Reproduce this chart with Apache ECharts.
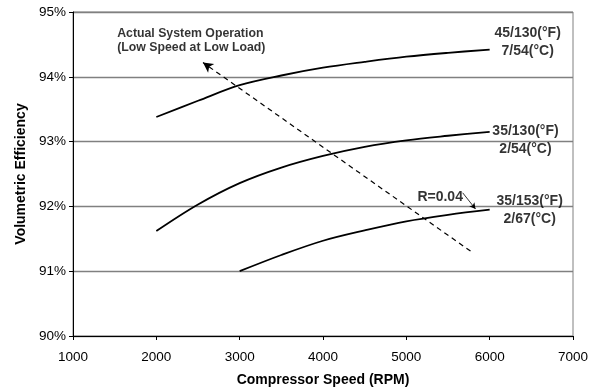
<!DOCTYPE html>
<html><head><meta charset="utf-8">
<script src="https://cdn.jsdelivr.net/npm/echarts@6/dist/echarts.min.js"></script>
<style>html,body{margin:0;padding:0;background:#fff}#c{width:592px;height:392px}</style>
</head><body><div id="c"></div>
<script>
var speeds1 = [2000, 2500, 3000, 3500, 4000, 4500, 5000, 5500, 6000];
var eff45_130 = [93.38, 93.63, 93.87, 94.02, 94.14, 94.23, 94.31, 94.37, 94.42];
var speeds2 = [2000, 2500, 3000, 3500, 4000, 4500, 5000, 5500, 6000];
var eff35_130 = [91.62, 92.03, 92.36, 92.6, 92.78, 92.92, 93.02, 93.09, 93.15];
var speeds3 = [3000, 3500, 4000, 4500, 5000, 5500, 6000];
var eff35_153 = [91.0, 91.25, 91.47, 91.63, 91.77, 91.87, 91.95];
var xTicks = ['1000', '2000', '3000', '4000', '5000', '6000', '7000'];
var yTicks = ['90%', '91%', '92%', '93%', '94%', '95%'];
var curveLabels = ['45/130(°F)\n7/54(°C)', '35/130(°F)\n2/54(°C)', '35/153(°F)\n2/67(°C)'];
var curveLabelPos = [[6456, 94.53], [6430, 93.02], [6480, 91.945]];
var noteText = 'Actual System Operation\n(Low Speed at Low Load)';
var notePos = [1530, 94.556];
var rText = 'R=0.04';
var rPos = [5406, 92.138];
var trendArrow = [[5770, 91.31], [2560, 94.22]];
var rArrow = [[5676, 92.21], [5830, 91.96]];

function pairs(xs, ys) { return xs.map(function (x, i) { return [x, ys[i]]; }); }

var F = '"Liberation Sans", Arial, sans-serif';
var chart = echarts.init(document.getElementById('c'));
var lineStyle = { color: '#000', width: 1.8 };
function curve(xs, ys) {
  return { type: 'line', data: pairs(xs, ys), smooth: 0.35, symbol: 'none', lineStyle: lineStyle, silent: true, z: 3 };
}
chart.setOption({
  animation: false,
  grid: { left: 73, right: 19, top: 12, bottom: 55, show: true, borderColor: '#808080', borderWidth: 1 },
  xAxis: {
    type: 'value', min: 1000, max: 7000, interval: 1000,
    name: 'Compressor Speed (RPM)', nameLocation: 'middle', nameGap: 37,
    nameTextStyle: { fontFamily: F, fontWeight: 'bold', fontSize: 14, color: '#000' },
    axisLine: { show: true, lineStyle: { color: '#000', width: 1 } },
    axisTick: { show: true, length: 4, lineStyle: { color: '#000' } },
    axisLabel: { fontFamily: F, fontSize: 13.5, color: '#000', margin: 14,
      formatter: function (v) { return xTicks[Math.round((v - 1000) / 1000)]; } },
    splitLine: { show: false }
  },
  yAxis: {
    type: 'value', min: 90, max: 95, interval: 1,
    name: 'Volumetric Efficiency', nameLocation: 'middle', nameGap: 43,
    nameTextStyle: { fontFamily: F, fontWeight: 'bold', fontSize: 14, color: '#000' },
    axisLine: { show: true, lineStyle: { color: '#000', width: 1 } },
    axisTick: { show: true, length: 4, lineStyle: { color: '#000' } },
    axisLabel: { fontFamily: F, fontSize: 13.5, color: '#000', margin: 7,
      formatter: function (v) { return yTicks[Math.round(v - 90)]; } },
    splitLine: { show: true, lineStyle: { color: '#808080', width: 1.3 } }
  },
  series: [
    curve(speeds1, eff45_130),
    curve(speeds2, eff35_130),
    curve(speeds3, eff35_153),
    {
      type: 'scatter', symbolSize: 0, silent: true, z: 5,
      data: curveLabels.map(function (t, i) {
        return { value: curveLabelPos[i], label: { show: true, formatter: t, position: 'inside',
          fontFamily: F, fontWeight: 'bold', fontSize: 14, color: '#000', lineHeight: 18, align: 'center', verticalAlign: 'middle' } };
      }).concat([
        { value: notePos, label: { show: true, formatter: noteText, position: 'inside',
          fontFamily: F, fontWeight: 'bold', fontSize: 12.3, color: '#000', lineHeight: 14.5, align: 'left', verticalAlign: 'middle' } },
        { value: rPos, label: { show: true, formatter: rText, position: 'inside',
          fontFamily: F, fontWeight: 'bold', fontSize: 14, color: '#000', align: 'center', verticalAlign: 'middle' } }
      ])
    },
    {
      type: 'line', data: [], silent: true, z: 4,
      markLine: {
        silent: true, animation: false, symbol: ['none', 'arrow'], symbolSize: [8, 10],
        label: { show: false },
        data: [
          [{ coord: trendArrow[0], lineStyle: { type: [5, 4], color: '#000', width: 1.2 } }, { coord: trendArrow[1] }],
          [{ coord: rArrow[0], lineStyle: { type: 'solid', color: '#000', width: 0.8 }, symbolSize: [5, 6] }, { coord: rArrow[1], symbolSize: [5, 6] }]
        ]
      }
    }
  ]
});
</script></body></html>
